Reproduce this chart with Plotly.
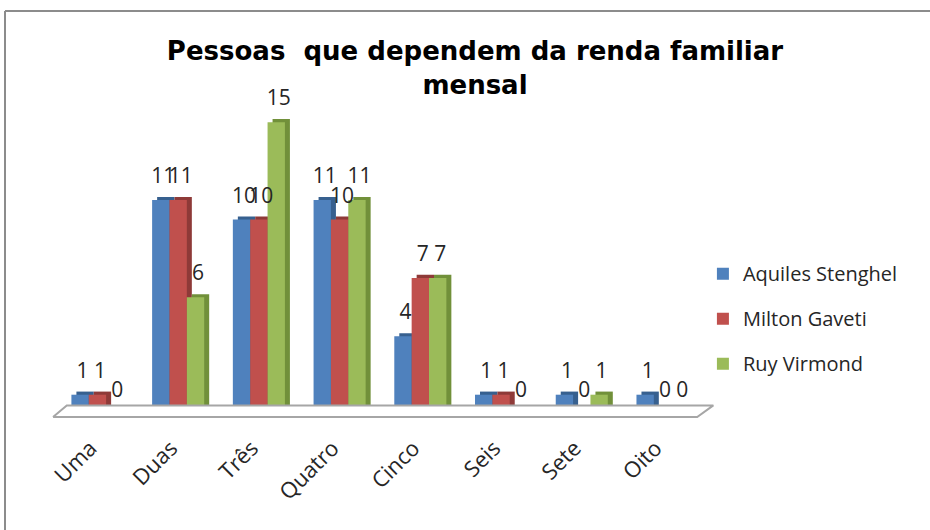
import plotly.graph_objects as go

categories = ["Uma", "Duas", "Três", "Quatro", "Cinco", "Seis", "Sete", "Oito"]
aquiles = [1, 11, 10, 11, 4, 1, 1, 1]
milton = [1, 11, 10, 10, 7, 1, 0, 0]
ruy = [0, 6, 15, 11, 7, 0, 1, 0]
series_names = ["Aquiles Stenghel", "Milton Gaveti", "Ruy Virmond"]
title_text = "<b>Pessoas  que dependem da renda familiar<br>mensal</b>"

front_colors = ["#4F81BD", "#C0504D", "#9BBB59"]
side_colors = ["#37608F", "#8E3A38", "#71903A"]

W, H = 930, 530
XR = [-0.6, 7.7]
YR = [-0.3, 16.5]
ML, MR, MT, MB = 49, 211, 93, 110
BW = 0.215          # bar width in category units
DX = 0.062          # depth offset (x units)
DY = 0.16           # depth offset (y units)
LABEL_LIFT = 0.6
SANS = "Open Sans, Lato, sans-serif"

x_idx = list(range(len(categories)))
series = [aquiles, milton, ruy]
offsets = [-1.5 * BW, -0.5 * BW, 0.5 * BW]

fig = go.Figure()

# floor of the 3-D plot area
fx = [XR[0] + 0.05, XR[1] - 0.27, XR[1] - 0.07, XR[0] + 0.22, XR[0] + 0.05]
fy = [-0.15, -0.15, 0.45, 0.45, -0.15]
fig.add_trace(go.Scatter(x=fx, y=fy, mode="lines", fill="toself",
                         fillcolor="#FFFFFF", line=dict(color="#A6A6A6", width=2),
                         hoverinfo="skip", showlegend=False))

# depth (side/top faces)
for vals, off, sc in zip(series, offsets, side_colors):
    fig.add_trace(go.Bar(x=x_idx, y=[v + DY for v in vals], base=0,
                         offset=off + DX, width=BW, marker=dict(color=sc, line=dict(width=0)),
                         hoverinfo="skip", showlegend=False))

# front faces
for name, vals, off, fc in zip(series_names, series, offsets, front_colors):
    fig.add_trace(go.Bar(x=x_idx, y=vals, name=name, offset=off, width=BW,
                         marker=dict(color=fc, line=dict(width=0)), legendgroup=name))

# value labels
for vals, off in zip(series, offsets):
    fig.add_trace(go.Scatter(x=[i + off + BW / 2 + DX / 2 for i in x_idx],
                             y=[v + LABEL_LIFT for v in vals],
                             mode="text", text=[str(v) for v in vals],
                             textposition="top center", cliponaxis=False,
                             textfont=dict(family=SANS, size=21, color="#262626"),
                             hoverinfo="skip", showlegend=False))

PW, PH = W - ML - MR, H - MT - MB
bx0 = (5 - ML) / PW
by1 = 1 + (MT - 11) / PH
border = dict(color="#8C8C8C", width=2)

fig.update_layout(
    width=W, height=H,
    margin=dict(l=ML, r=MR, t=MT, b=MB, autoexpand=False),
    paper_bgcolor="white", plot_bgcolor="white",
    barmode="overlay",
    title=dict(text=title_text, x=475 / W, xanchor="center", y=1 - 60 / H, yanchor="middle",
               font=dict(family="DejaVu Sans, sans-serif", size=26, color="#000000")),
    xaxis=dict(range=XR, tickmode="array", tickvals=x_idx, ticktext=categories,
               tickangle=-45, showgrid=False, zeroline=False, showline=False, ticks="",
               ticklabelstandoff=10, ticklabelshift=-7, automargin=False,
               tickfont=dict(family=SANS, size=22, color="#262626")),
    yaxis=dict(range=YR, showgrid=False, zeroline=False, showline=False,
               showticklabels=False, ticks="", automargin=False),
    legend=dict(x=0.976, y=0.31, xanchor="left", yanchor="middle",
                font=dict(family=SANS, size=20, color="#262626"),
                tracegroupgap=16, itemwidth=30, bgcolor="rgba(0,0,0,0)"),
    shapes=[
        dict(type="line", xref="paper", yref="paper", x0=bx0, x1=(W + 20 - ML) / PW,
             y0=by1, y1=by1, line=border, layer="below"),
        dict(type="line", xref="paper", yref="paper", x0=bx0, x1=bx0,
             y0=by1, y1=-(MB + 20) / PH, line=border, layer="below"),
    ],
)

fig.write_html("out.html", config={"displayModeBar": False},
               post_script="document.body.style.margin='0';document.body.style.overflow='hidden';")
